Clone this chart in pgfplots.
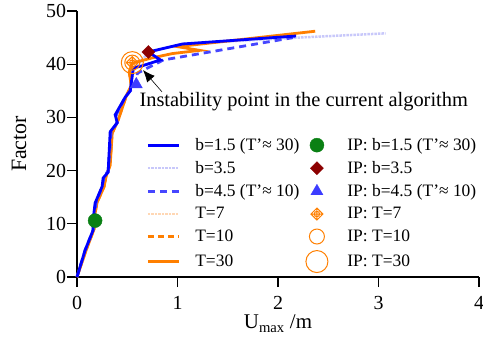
\documentclass[border=0pt]{standalone}
\usepackage{pgfplots}
\pgfplotsset{compat=1.18}
\usepackage{fontspec}
\setmainfont{Liberation Serif}
\usetikzlibrary{arrows.meta}
\definecolor{cblue}{RGB}{0,0,255}
\definecolor{cdblue}{RGB}{70,70,255}
\definecolor{cpblue}{RGB}{200,200,250}
\definecolor{corange}{RGB}{255,127,0}
\definecolor{cporange}{RGB}{255,215,180}
\definecolor{cgreen}{RGB}{10,128,20}
\definecolor{cdred}{RGB}{140,0,0}
\definecolor{ctri}{RGB}{60,60,255}
\pgfdeclareplotmark{dplus}{%
  \pgfpathmoveto{\pgfqpoint{0pt}{\pgfplotmarksize}}%
  \pgfpathlineto{\pgfqpoint{\pgfplotmarksize}{0pt}}%
  \pgfpathlineto{\pgfqpoint{0pt}{-\pgfplotmarksize}}%
  \pgfpathlineto{\pgfqpoint{-\pgfplotmarksize}{0pt}}%
  \pgfpathclose
  \pgfpathmoveto{\pgfqpoint{0pt}{\pgfplotmarksize}}%
  \pgfpathlineto{\pgfqpoint{0pt}{-\pgfplotmarksize}}%
  \pgfpathmoveto{\pgfqpoint{\pgfplotmarksize}{0pt}}%
  \pgfpathlineto{\pgfqpoint{-\pgfplotmarksize}{0pt}}%
  \pgfpathcircle{\pgfpointorigin}{0.45\pgfplotmarksize}%
  \pgfusepathqstroke}
\pgfplotsset{myleg/.style={legend image code/.code={\path[draw=none,fill=none] (0bp,-5bp) rectangle (31bp,5bp);\draw[mark repeat=2,mark phase=2,##1] plot coordinates {(0bp,0bp) (15.5bp,0bp) (31bp,0bp)};}},
  mymk/.style={legend image code/.code={\path[draw=none,fill=none] (0bp,-5bp) rectangle (31bp,5bp);\draw[##1] plot coordinates {(15.5bp,0bp)};}}}
\begin{document}
\begin{tikzpicture}
\useasboundingbox (-77bp,-66bp) rectangle (406bp,277bp);
\begin{axis}[
  scale only axis, width=402bp, height=266bp,
  anchor=south west, at={(0,0)},
  xmin=0, xmax=4, ymin=0, ymax=50,
  xtick={0,1,2,3,4}, ytick={0,10,20,30,40,50},
  xticklabels={0,1,2,3,4}, yticklabels={0,10,20,30,40,50},
  axis x line*=bottom, axis y line*=left,
  axis line style={line width=1.2bp},
  tick style={line width=1.2bp, black},
  tick align=outside, major tick length=10bp,
  xticklabel style={font=\fontsize{20}{23}\selectfont, yshift=-6bp},
  yticklabel style={font=\fontsize{20}{23}\selectfont, xshift=2.5bp},
  xlabel style={font=\fontsize{21}{24}\selectfont, at={(axis description cs:0.5,0)}, anchor=north, inner sep=0pt, yshift=-38bp},
  ylabel style={font=\fontsize{22}{25}\selectfont, at={(axis description cs:-0.144,0.5)}, anchor=center, inner sep=0pt},
  xlabel={U\textsubscript{max} /m},
  ylabel={Factor},
  legend style={draw=none, fill=none, at={(0.165,0.537)}, anchor=north west,
    font=\fontsize{17.5}{20}\selectfont, row sep=5.5bp,
    /tikz/every odd column/.append style={column sep=13bp},
    /tikz/every even column/.append style={column sep=0bp}},
  legend columns=2, legend cell align=left,
  clip=false,
]
% b=3.5 dotted pale
\addplot[forget plot, cpblue, line width=2.5bp, densely dotted] coordinates {
(0,0) (0.08,5) (0.16,8.8) (0.17,11) (0.19,14) (0.25,17) (0.27,18.8) (0.31,20) (0.34,27.3) (0.40,29) (0.39,30.5) (0.48,33.8) (0.53,35.5) (0.57,39.3) (0.72,42.3) (1.05,43.8) (2.2,45.0) (3.07,45.8)};
% T=7 dotted pale orange
\addplot[forget plot, cporange, line width=2.5bp, densely dotted] coordinates {
(0,0) (0.09,5) (0.17,9) (0.18,12) (0.2,14) (0.27,17) (0.29,19) (0.33,21) (0.35,27) (0.41,29.5) (0.49,34) (0.54,36) (0.52,38.5) (0.55,40.4)};
% T=10 dashed orange
\addplot[forget plot, corange, line width=2.5bp, dash pattern=on 6bp off 4bp] coordinates {
(0,0) (0.09,5) (0.17,9) (0.18,12) (0.2,14) (0.27,17) (0.29,19) (0.33,21) (0.35,27) (0.41,29.5) (0.49,34) (0.54,36) (0.52,38.5) (0.55,40.4)};
% T=30 solid orange
\addplot[forget plot, corange, line width=2.8bp] coordinates {
(0,0) (0.09,5) (0.17,9) (0.18,12) (0.2,14) (0.27,17) (0.29,19) (0.33,21) (0.35,27) (0.41,29.5) (0.49,34) (0.54,36) (0.52,38.5) (0.55,40.2) (0.75,41.2) (0.95,42.0) (1.22,42.6) (1.0,43.3) (2.37,46.2)};
% b=4.5 dashed blue
\addplot[forget plot, cdblue, line width=2.8bp, dash pattern=on 7bp off 5bp] coordinates {
(0,0) (0.08,5) (0.16,8.8) (0.17,11) (0.19,14) (0.25,17) (0.27,18.8) (0.31,20) (0.34,27.3) (0.40,29) (0.39,30.5) (0.48,33.8) (0.53,35) (0.59,36) (0.6,38.3) (0.86,40.8) (2.15,45.0)};
% b=1.5 solid blue
\addplot[forget plot, cblue, line width=2.8bp] coordinates {
(0,0) (0.08,5) (0.16,8.8) (0.16,10.7) (0.18,13.9) (0.25,17) (0.26,18.6) (0.31,19.7) (0.33,27.3) (0.40,29) (0.38,30.5) (0.48,33.8) (0.53,35) (0.56,39.3) (0.65,39.7) (0.83,40.8) (0.71,42.3) (1.05,43.8) (2.18,45.3)};
% IP markers
\addplot[forget plot, only marks, mark=*, mark size=7bp, cgreen] coordinates {(0.18,10.6)};
\addplot[forget plot, only marks, mark=square*, mark size=4.6bp, mark options={rotate=45}, cdred] coordinates {(0.71,42.3)};
\addplot[forget plot, only marks, mark=triangle*, mark size=7bp, ctri] coordinates {(0.59,36.2)};
\addplot[forget plot, only marks, mark=dplus, mark size=6bp, mark options={line width=1bp}, corange] coordinates {(0.55,40.3)};
\addplot[forget plot, only marks, mark=o, mark size=7.5bp, mark options={line width=1bp}, corange] coordinates {(0.55,40.3)};
\addplot[forget plot, only marks, mark=o, mark size=11bp, mark options={line width=1bp}, corange] coordinates {(0.55,40.3)};
% legend
\addlegendimage{myleg, cblue, line width=2.8bp}
\addlegendentry{b=1.5 (T'≈ 30)}
\addlegendimage{only marks, mymk, mark=*, mark size=7bp, cgreen}
\addlegendentry{IP: b=1.5 (T'≈ 30)}
\addlegendimage{myleg, cpblue, line width=2.5bp, densely dotted}
\addlegendentry{b=3.5}
\addlegendimage{only marks, mymk, mark=square*, mark size=4.6bp, mark options={rotate=45}, cdred}
\addlegendentry{IP: b=3.5}
\addlegendimage{myleg, cdblue, line width=2.8bp, dash pattern=on 7bp off 5bp}
\addlegendentry{b=4.5 (T'≈ 10)}
\addlegendimage{only marks, mymk, mark=triangle*, mark size=7bp, ctri}
\addlegendentry{IP: b=4.5 (T'≈ 10)}
\addlegendimage{myleg, cporange, line width=2.5bp, densely dotted}
\addlegendentry{T=7}
\addlegendimage{only marks, mymk, mark=dplus, mark size=6bp, mark options={line width=1bp}, corange}
\addlegendentry{IP: T=7}
\addlegendimage{myleg, corange, line width=2.5bp, dash pattern=on 6bp off 4bp}
\addlegendentry{T=10}
\addlegendimage{only marks, mymk, mark=o, mark size=7.5bp, mark options={line width=1bp}, corange}
\addlegendentry{IP: T=10}
\addlegendimage{myleg, corange, line width=2.8bp}
\addlegendentry{T=30}
\addlegendimage{only marks, mymk, mark=o, mark size=11bp, mark options={line width=1bp}, corange}
\addlegendentry{IP: T=30}
% annotation
\draw[-{Latex[length=12bp,width=10bp]}, line width=0.6bp, black] (axis cs:0.846,34.8) -- (axis cs:0.657,38.9);
\node[anchor=west, inner sep=0pt, font=\fontsize{20.5}{24}\selectfont] at (axis cs:0.62,33.0) {Instability point in the current algorithm};
\end{axis}
\end{tikzpicture}
\end{document}
